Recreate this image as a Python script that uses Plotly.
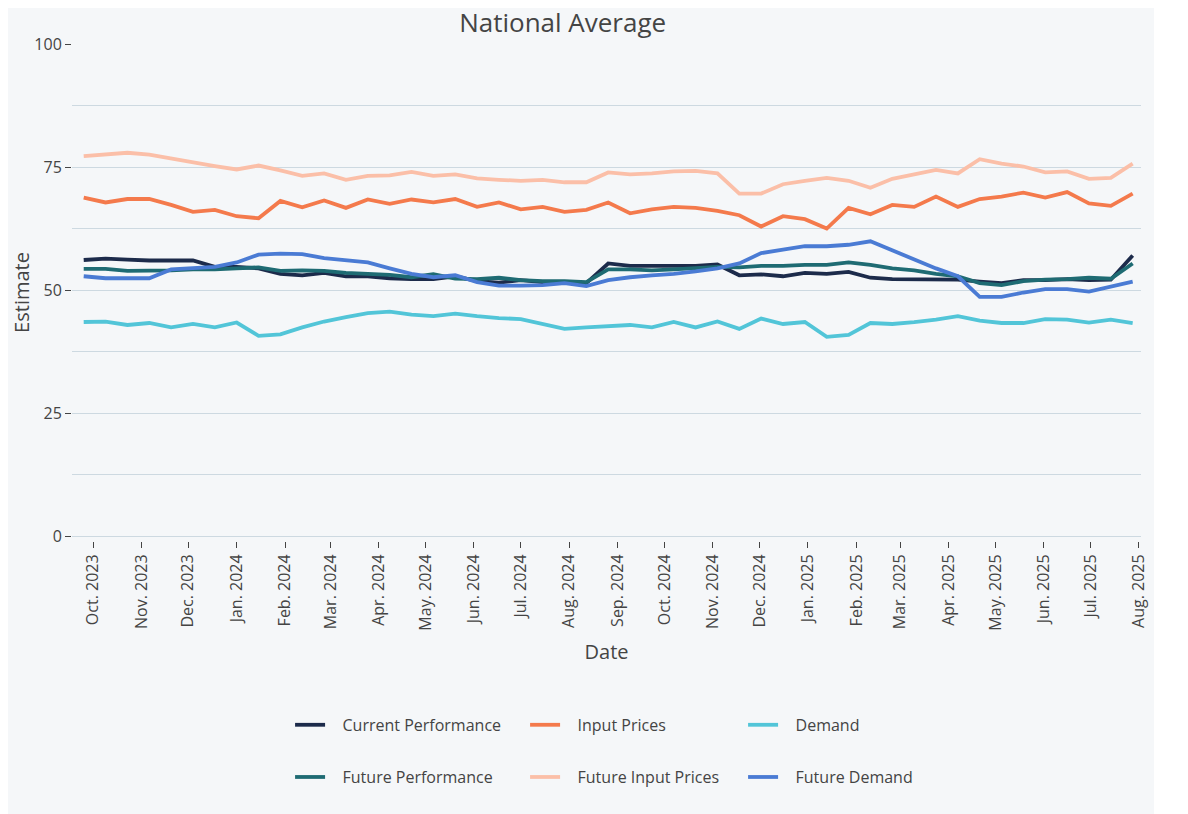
import pandas as pd
import plotly.graph_objects as go

# biweekly survey dates (Mondays)
dates = pd.date_range("2023-09-25", periods=49, freq="14D")

current_performance = [
    56.1, 56.4, 56.2, 56.0, 56.0, 56.0, 54.7, 54.7, 54.4, 53.3,
    53.0, 53.5, 52.8, 52.8, 52.4, 52.2, 52.2, 52.8, 51.8, 51.5,
    52.0, 51.6, 51.6, 51.4, 55.4, 54.9, 54.9, 54.9, 54.9, 55.2,
    53.0, 53.2, 52.8, 53.5, 53.3, 53.7, 52.5, 52.2, 52.2, 52.2,
    52.1, 51.7, 51.4, 52.0, 52.0, 52.2, 52.0, 52.1, 57.0,
]
input_prices = [
    68.8, 67.8, 68.5, 68.5, 67.3, 65.9, 66.3, 65.0, 64.6, 68.1,
    66.8, 68.2, 66.7, 68.4, 67.5, 68.4, 67.8, 68.5, 66.9, 67.8,
    66.4, 66.9, 65.9, 66.3, 67.8, 65.6, 66.4, 66.9, 66.7, 66.1,
    65.2, 62.9, 65.0, 64.4, 62.5, 66.7, 65.4, 67.3, 66.9, 69.0,
    66.9, 68.5, 69.0, 69.8, 68.8, 69.9, 67.6, 67.1, 69.6,
]
demand = [
    43.5, 43.6, 42.9, 43.3, 42.4, 43.1, 42.4, 43.4, 40.7, 41.0,
    42.4, 43.6, 44.5, 45.3, 45.6, 45.0, 44.7, 45.2, 44.7, 44.3,
    44.1, 43.1, 42.1, 42.4, 42.6, 42.9, 42.4, 43.5, 42.4, 43.6,
    42.1, 44.2, 43.1, 43.5, 40.5, 40.9, 43.3, 43.1, 43.5, 44.0,
    44.7, 43.8, 43.3, 43.3, 44.1, 44.0, 43.4, 44.0, 43.3,
]
future_performance = [
    54.3, 54.3, 53.9, 53.9, 54.0, 54.2, 54.2, 54.4, 54.6, 53.9,
    54.0, 53.9, 53.5, 53.3, 53.1, 52.6, 53.2, 52.3, 52.2, 52.5,
    52.0, 51.8, 51.8, 51.6, 54.2, 54.2, 54.0, 54.2, 54.5, 54.7,
    54.6, 54.9, 54.9, 55.1, 55.1, 55.6, 55.1, 54.4, 54.0, 53.3,
    52.8, 51.4, 51.0, 51.8, 52.1, 52.2, 52.5, 52.3, 55.4,
]
future_input_prices = [
    77.2, 77.6, 77.9, 77.5, 76.7, 75.9, 75.2, 74.5, 75.3, 74.3,
    73.2, 73.7, 72.4, 73.2, 73.3, 74.0, 73.2, 73.5, 72.7, 72.4,
    72.2, 72.4, 71.9, 71.9, 73.9, 73.5, 73.7, 74.1, 74.2, 73.7,
    69.6, 69.6, 71.5, 72.2, 72.8, 72.2, 70.8, 72.6, 73.5, 74.4,
    73.7, 76.6, 75.7, 75.1, 73.9, 74.1, 72.6, 72.8, 75.7,
]
future_demand = [
    52.8, 52.4, 52.4, 52.4, 54.2, 54.5, 54.7, 55.6, 57.2, 57.4,
    57.3, 56.5, 56.1, 55.6, 54.4, 53.3, 52.6, 53.0, 51.6, 50.9,
    50.9, 51.0, 51.4, 50.8, 52.0, 52.6, 53.0, 53.3, 53.8, 54.4,
    55.4, 57.5, 58.2, 58.9, 58.9, 59.2, 59.9, 58.0, 56.1, 54.4,
    52.8, 48.6, 48.6, 49.5, 50.2, 50.2, 49.7, 50.7, 51.7,
]

# (name, values, colour, legend row, entry width)
series = [
    ("Current Performance", current_performance, "#1c2b4b", "legend", 190),
    ("Input Prices", input_prices, "#f47a4c", "legend", 173),
    ("Demand", demand, "#52c5d8", "legend", 150),
    ("Future Performance", future_performance, "#1e6b73", "legend2", 190),
    ("Future Input Prices", future_input_prices, "#fbbfa8", "legend2", 173),
    ("Future Demand", future_demand, "#4a7bd4", "legend2", 150),
]

gap = "\u00a0" * 3  # space between legend line and text

fig = go.Figure()
for name, vals, col, leg, lw in series:
    fig.add_trace(go.Scatter(
        x=dates, y=vals, mode="lines", name=gap + name,
        line=dict(color=col, width=3.8),
        legend=leg, legendwidth=lw,
        hovertemplate="%{x|%b %d, %Y}: %{y:.1f}<extra>" + name + "</extra>",
    ))

bg = "#f5f7f9"
grid = "#cdd9e1"
font = "Open Sans"

legend_style = dict(
    orientation="h", xanchor="left", yanchor="middle", x=0.204,
    font=dict(family=font, size=16, color="#444"),
    bgcolor="rgba(0,0,0,0)",
)

# page body adds 8px, so margins are trimmed by that amount
fig.update_layout(
    width=1146, height=806,
    margin=dict(l=64, r=13, t=36, b=273),
    paper_bgcolor=bg, plot_bgcolor=bg,
    font=dict(family=font, color="#444"),
    title=dict(text="National Average", x=0.484, xanchor="center",
               xref="container", yref="container",
               y=0.981, yanchor="middle",
               font=dict(family=font, size=26, color="#444")),
    xaxis=dict(
        title=dict(text="Date", font=dict(size=20)),
        range=["2023-09-17 12:00", "2025-08-02 08:00"],
        tick0="2023-10-01", dtick="M1", tickformat="%b. %Y",
        tickangle=-90, ticks="outside", ticklen=6, tickcolor="#444",
        tickfont=dict(size=16), automargin=False,
        showgrid=False, zeroline=False, showline=False,
    ),
    yaxis=dict(
        title=dict(text="Estimate", font=dict(size=20), standoff=22),
        range=[-1, 100], dtick=25, tick0=0,
        ticks="outside", ticklen=6, tickcolor="#444",
        tickfont=dict(size=16), automargin=False,
        showgrid=True, gridcolor=grid, gridwidth=1,
        minor=dict(dtick=12.5, showgrid=True, gridcolor=grid, gridwidth=1),
        zeroline=False, showline=False,
    ),
    legend=dict(legend_style, y=-0.370),
    legend2=dict(legend_style, y=-0.475),
)

fig.write_html("out.html")
